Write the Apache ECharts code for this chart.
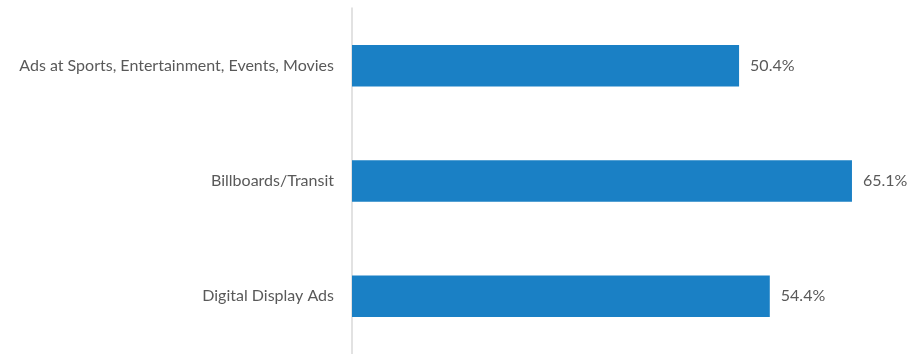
<!DOCTYPE html>
<html>
<head>
<meta charset="utf-8">
<script src="https://cdn.jsdelivr.net/npm/echarts@6/dist/echarts.min.js"></script>
<style>
  html, body { margin: 0; padding: 0; background: #fff; }
  #chart { width: 914px; height: 354px; }
</style>
</head>
<body>
<div id="chart"></div>
<script>
// Ad channels, listed top to bottom
const categories = [
  'Ads at Sports, Entertainment, Events, Movies',
  'Billboards/Transit',
  'Digital Display Ads'
];
// Share of respondents (%)
const values = [50.4, 65.1, 54.4];

const chart = echarts.init(document.getElementById('chart'), null, { renderer: 'canvas' });

chart.setOption({
  animation: false,
  backgroundColor: '#ffffff',
  textStyle: { fontFamily: 'Lato, "Open Sans", sans-serif' },
  grid: { left: 352, right: 24.4, top: 8, height: 352, containLabel: false },
  xAxis: {
    type: 'value',
    min: 0,
    max: 70,
    show: false
  },
  yAxis: {
    type: 'category',
    data: categories,
    inverse: true,
    axisLine: { show: true, lineStyle: { color: '#d9d9d9', width: 1.5 } },
    axisTick: { show: false },
    axisLabel: {
      color: '#595959',
      fontSize: 16,
      margin: 18,
      fontFamily: 'Lato, "Open Sans", sans-serif'
    },
    splitLine: { show: false }
  },
  series: [{
    type: 'bar',
    data: values,
    barWidth: 41.5,
    itemStyle: { color: '#1a80c5' },
    label: {
      show: true,
      position: 'right',
      distance: 11,
      color: '#595959',
      fontSize: 16,
      fontFamily: 'Lato, "Open Sans", sans-serif',
      formatter: p => p.value.toFixed(1) + '%'
    }
  }]
});
</script>
</body>
</html>
